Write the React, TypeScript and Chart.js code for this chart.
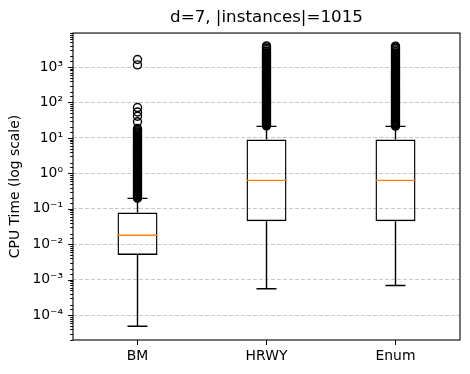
import React, { useEffect, useRef } from 'react';
import { Chart, registerables } from 'chart.js';

Chart.register(...registerables);

// ---- data ----
const categories = ['BM', 'HRWY', 'Enum'];
const q1Values = [0.005, 0.045, 0.045];
const medianValues = [0.018, 0.635, 0.635];
const q3Values = [0.079, 9.0, 9.0];
const whiskerLow = [4.9e-5, 5.6e-4, 6.9e-4];
const whiskerHigh = [0.198, 21.2, 21.2];

const outliersBM = [
  0.2, 0.212, 0.225, 0.24, 0.255, 0.27, 0.29, 0.31, 0.33, 0.35, 0.375, 0.4, 0.43, 0.46,
  0.49, 0.52, 0.56, 0.6, 0.64, 0.68, 0.73, 0.78, 0.84, 0.9, 0.96, 1.03, 1.1, 1.18, 1.26,
  1.35, 1.45, 1.55, 1.66, 1.78, 1.9, 2.03, 2.17, 2.32, 2.48, 2.65, 2.85, 3.05, 3.25, 3.5,
  3.75, 4.0, 4.3, 4.6, 4.9, 5.25, 5.6, 6.0, 6.4, 6.9, 7.4, 7.9, 8.5, 9.1, 9.7, 10.4, 11.2,
  12, 12.8, 13.8, 14.7, 15.8, 17, 18.5, 28.5, 41, 54, 72, 1150, 1630,
];
const outliersHRWY = [
  22, 23.5, 25, 26.8, 28.7, 30.7, 32.8, 35, 37.5, 40, 43, 46, 49, 52.5, 56, 60, 64, 69, 74,
  79, 84, 90, 96, 103, 110, 118, 126, 135, 145, 155, 165, 177, 190, 203, 217, 232, 248, 265,
  285, 305, 325, 350, 375, 400, 430, 460, 490, 525, 560, 600, 640, 690, 740, 790, 845, 905,
  970, 1040, 1110, 1190, 1270, 1360, 1460, 1560, 1670, 1790, 1920, 2050, 2200, 2350, 2550,
  2800, 3100, 3400, 3700, 3950,
];
const outliersEnum = [
  21.5, 23, 24.6, 26.3, 28.2, 30.2, 32.3, 34.6, 37, 39.6, 42.4, 45.4, 48.6, 52, 55.6, 59.5,
  63.7, 68.2, 73, 78, 83.5, 89.4, 95.6, 102, 109, 117, 125, 134, 143, 153, 164, 175, 188,
  201, 215, 230, 246, 263, 282, 302, 323, 345, 370, 396, 424, 453, 485, 519, 555, 594, 636,
  680, 728, 779, 834, 892, 955, 1020, 1090, 1170, 1250, 1340, 1430, 1530, 1640, 1760, 1880,
  2010, 2150, 2300, 2500, 2750, 3050, 3350, 3650, 3900,
];

const majorTickValues = [1e-4, 1e-3, 1e-2, 1e-1, 1, 10, 100, 1000];
const majorTickLabels = ['10⁻⁴', '10⁻³', '10⁻²', '10⁻¹', '10⁰', '10¹', '10²', '10³'];
const yMin = 2e-5;
const yMax = 9100;

const titleText = 'd=7, |instances|=1015';
const yAxisTitle = 'CPU Time (log scale)';

const FONT = "'DejaVu Sans', sans-serif";

function isMajor(v: number): boolean {
  const l = Math.log10(v);
  return Math.abs(l - Math.round(l)) < 1e-6;
}

function majorLabel(v: number): string {
  for (let i = 0; i < majorTickValues.length; i++) {
    if (Math.abs(Math.log10(v) - Math.log10(majorTickValues[i])) < 1e-6) return majorTickLabels[i];
  }
  return '';
}

const boxExtras = {
  id: 'boxExtras',
  afterDatasetsDraw(chart: any) {
    const ctx = chart.ctx;
    const xs = chart.scales.x;
    const ys = chart.scales.y;
    const meta = chart.getDatasetMeta(0);
    ctx.save();
    for (let i = 0; i < categories.length; i++) {
      const bar = meta.data[i];
      const cx = xs.getPixelForValue(i);
      const halfW = bar.width / 2;
      ctx.strokeStyle = '#000';
      ctx.lineWidth = 1.4;
      ctx.beginPath();
      ctx.moveTo(cx, ys.getPixelForValue(q3Values[i]));
      ctx.lineTo(cx, ys.getPixelForValue(whiskerHigh[i]));
      ctx.moveTo(cx, ys.getPixelForValue(q1Values[i]));
      ctx.lineTo(cx, ys.getPixelForValue(whiskerLow[i]));
      ctx.moveTo(cx - halfW / 2, ys.getPixelForValue(whiskerHigh[i]));
      ctx.lineTo(cx + halfW / 2, ys.getPixelForValue(whiskerHigh[i]));
      ctx.moveTo(cx - halfW / 2, ys.getPixelForValue(whiskerLow[i]));
      ctx.lineTo(cx + halfW / 2, ys.getPixelForValue(whiskerLow[i]));
      ctx.stroke();
      ctx.strokeStyle = '#ff7f0e';
      ctx.beginPath();
      ctx.moveTo(cx - halfW, ys.getPixelForValue(medianValues[i]));
      ctx.lineTo(cx + halfW, ys.getPixelForValue(medianValues[i]));
      ctx.stroke();
    }
    // frame
    const a = chart.chartArea;
    ctx.strokeStyle = '#000';
    ctx.lineWidth = 1.1;
    ctx.strokeRect(a.left, a.top, a.right - a.left, a.bottom - a.top);
    // y tick marks
    ctx.lineWidth = 1;
    ctx.beginPath();
    for (const t of ys.ticks) {
      const v = t.value;
      if (v < yMin || v > yMax) continue;
      const py = Math.round(ys.getPixelForValue(v)) + 0.5;
      const len = isMajor(v) ? 4.9 : 2.8;
      ctx.moveTo(a.left - len, py);
      ctx.lineTo(a.left, py);
    }
    ctx.stroke();
    ctx.restore();
  },
};

function makeOutlierDataset(cat: string, values: number[]) {
  return {
    type: 'line' as const,
    label: cat + ' outliers',
    data: values.map((v) => ({ x: cat, y: v })),
    showLine: false,
    pointRadius: 4,
    pointBorderWidth: 1.4,
    pointBackgroundColor: 'rgba(0,0,0,0)',
    pointBorderColor: '#000',
    pointStyle: 'circle',
  };
}

export default function App() {
  const canvasRef = useRef<HTMLCanvasElement | null>(null);

  useEffect(() => {
    if (!canvasRef.current) return;
    const chart = new Chart(canvasRef.current, {
      type: 'bar',
      data: {
        labels: categories,
        datasets: [
          {
            type: 'bar',
            label: 'box',
            data: categories.map((_, i) => [q1Values[i], q3Values[i]]),
            backgroundColor: 'rgba(0,0,0,0)',
            borderColor: '#000',
            borderWidth: 1.4,
            borderSkipped: false,
            barPercentage: 0.31,
            categoryPercentage: 1,
            grouped: false,
          } as any,
          makeOutlierDataset('BM', outliersBM) as any,
          makeOutlierDataset('HRWY', outliersHRWY) as any,
          makeOutlierDataset('Enum', outliersEnum) as any,
        ],
      },
      options: {
        animation: false,
        responsive: false,
        layout: { padding: { left: 0, right: 10, top: 0, bottom: 0 } },
        plugins: {
          legend: { display: false },
          tooltip: { enabled: false },
          title: {
            display: true,
            text: titleText,
            fullSize: false,
            color: '#000',
            font: { family: FONT, size: 16.7, weight: 'normal' },
            padding: { top: 8, bottom: 5 },
          },
        },
        scales: {
          x: {
            type: 'category',
            offset: true,
            afterFit: (scale: any) => {
              scale.height = 34;
            },
            grid: {
              display: true,
              offset: false,
              drawOnChartArea: false,
              drawTicks: true,
              tickLength: 5,
              tickColor: '#000',
              tickWidth: 1,
            },
            border: { display: false },
            ticks: {
              color: '#000',
              font: { family: FONT, size: 13.9 },
              padding: 3,
            },
          },
          y: {
            type: 'logarithmic',
            min: yMin,
            max: yMax,
            afterFit: (scale: any) => {
              scale.width = 73;
            },
            grid: {
              drawTicks: false,
              lineWidth: 1,
              color: (ctx: any) => (ctx.tick && isMajor(ctx.tick.value) ? '#c8c8c8' : 'rgba(0,0,0,0)'),
            },
            border: { display: false, dash: [4, 2] },
            ticks: {
              autoSkip: false,
              color: '#000',
              font: { family: FONT, size: 13.9 },
              padding: 10,
              callback: (v: any) => majorLabel(Number(v)),
            },
            title: {
              display: true,
              text: yAxisTitle,
              color: '#000',
              font: { family: FONT, size: 13.9 },
              padding: { top: 7, bottom: 0 },
            },
          },
        },
      },
      plugins: [boxExtras],
    } as any);
    return () => chart.destroy();
  }, []);

  return (
    <div style={{ position: 'absolute', left: 0, top: 0, width: 470, height: 374 }}>
      <canvas ref={canvasRef} width={470} height={374} style={{ display: 'block' }} />
    </div>
  );
}
